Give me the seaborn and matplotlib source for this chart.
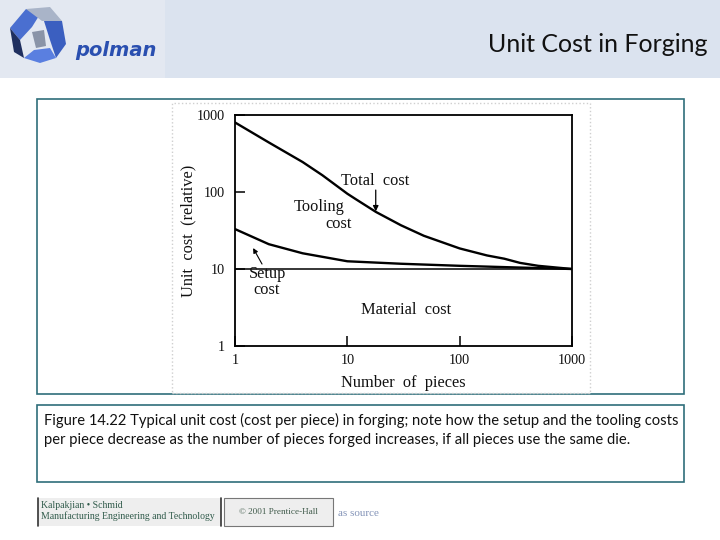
import numpy as np
import pandas as pd
import matplotlib
matplotlib.use("Agg")
import matplotlib.pyplot as plt
import seaborn as sns
from matplotlib.patches import Rectangle, Polygon

# ---- data ----
pieces_total = [1, 2, 4, 6, 10, 12, 18, 24, 30, 48, 100, 175, 250, 345, 500, 1000]
cost_total = [800, 440, 245, 165, 95, 80, 55, 44, 37, 27, 18.5, 15, 13.6, 12, 11, 10]
pieces_setup = [1, 2, 4, 10, 30, 100, 300, 1000]
cost_setup = [33, 21, 16, 12.6, 11.7, 11, 10.5, 10]
pieces_material = [1, 1000]
cost_material = [10, 10]
x_ticks = [1, 10, 100, 1000]
y_ticks = [1, 10, 100, 1000]

df_total = pd.DataFrame({"pieces": pieces_total, "cost": cost_total})
df_setup = pd.DataFrame({"pieces": pieces_setup, "cost": cost_setup})
df_mat = pd.DataFrame({"pieces": pieces_material, "cost": cost_material})

sns.set_theme(style="white")
plt.rcParams["font.family"] = ["Liberation Serif", "DejaVu Serif"]

W, H = 720, 540
fig = plt.figure(figsize=(7.2, 5.4), dpi=100)
fig.patch.set_facecolor("white")

def fx(px):
    return px / W

def fy(py):
    return 1 - py / H

def frect(x0, y0, x1, y1, **kw):
    r = Rectangle((fx(x0), fy(y1)), fx(x1) - fx(x0), fy(y0) - fy(y1),
                  transform=fig.transFigure, **kw)
    fig.add_artist(r)
    return r

# header band
frect(0, 0, 720, 78, facecolor="#dbe3ef", edgecolor="none", zorder=0)
frect(0, 0, 165, 78, facecolor="#e3e8f1", edgecolor="none", zorder=0)
fig.text(fx(708), fy(45), "Unit Cost in Forging", ha="right", va="center",
         fontsize=18, family=["Lato", "DejaVu Sans"], color="#111111")

# logo (approximation)
logo_polys = [
    ([(10, 28), (26, 9), (42, 11), (32, 27), (20, 40)], "#4a6fd0"),
    ([(26, 9), (50, 7), (62, 21), (42, 21)], "#a9b4c8"),
    ([(44, 21), (62, 21), (66, 44), (56, 58), (50, 40)], "#3b5fc0"),
    ([(10, 28), (20, 40), (24, 58), (14, 52)], "#1f2f5f"),
    ([(24, 58), (40, 63), (56, 58), (50, 48), (34, 50)], "#5a7fe0"),
    ([(32, 32), (44, 30), (46, 46), (36, 48)], "#8a94a8"),
]
for pts, col in logo_polys:
    fig.add_artist(Polygon([(fx(a), fy(b)) for a, b in pts], closed=True,
                           transform=fig.transFigure, facecolor=col,
                           edgecolor="none", zorder=1))
fig.text(fx(75), fy(50), "polman", ha="left", va="center", fontsize=14,
         fontweight="bold", style="italic", color="#2a4fb0",
         family=["DejaVu Sans"])

# chart frame
frect(37, 99, 684, 394, facecolor="white", edgecolor="#2f6e7a", linewidth=1.2, zorder=0)
frect(172, 103, 590, 393, facecolor="white", edgecolor="#cfcfcf", linewidth=1.0,
      linestyle=":", zorder=0)

# caption box
frect(37, 405, 684, 482, facecolor="white", edgecolor="#2f6e7a", linewidth=1.2, zorder=0)
cap_font = ["Lato", "DejaVu Sans"]
fig.text(fx(44), fy(420), "Figure 14.22 Typical unit cost (cost per piece) in forging; note how the setup and the tooling costs",
         ha="left", va="center", fontsize=10.6, family=cap_font, color="#111111")
fig.text(fx(44), fy(440), "per piece decrease as the number of pieces forged increases, if all pieces use the same die.",
         ha="left", va="center", fontsize=10.6, family=cap_font, color="#111111")

# footer
frect(38, 498, 221, 526, facecolor="#eeeeee", edgecolor="none", zorder=0)
fig.add_artist(plt.Line2D([fx(38), fx(38)], [fy(498), fy(526)], transform=fig.transFigure, color="#333333", lw=1.2))
fig.add_artist(plt.Line2D([fx(221), fx(221)], [fy(498), fy(526)], transform=fig.transFigure, color="#333333", lw=1.2))
fig.text(fx(41), fy(505), "Kalpakjian \u2022 Schmid", ha="left", va="center",
         fontsize=7.0, color="#2f5a4a")
fig.text(fx(41), fy(516), "Manufacturing Engineering and Technology", ha="left", va="center",
         fontsize=7.0, color="#2f5a4a")
frect(224, 498, 333, 526, facecolor="#eeeeee", edgecolor="#777777", linewidth=0.8, zorder=0)
fig.text(fx(278.5), fy(512), "\u00a9 2001 Prentice-Hall", ha="center", va="center",
         fontsize=6.6, color="#3f5a4a")
fig.text(fx(338), fy(513), "as source", ha="left", va="center",
         fontsize=8, color="#8494b8")

# ---- the chart ----
ax = fig.add_axes([fx(235), fy(346), fx(572) - fx(235), fy(115) - fy(346)])
ax.set_facecolor("white")
sns.lineplot(data=df_total, x="pieces", y="cost", color="black", linewidth=1.7,
             ax=ax, legend=False, sort=False)
sns.lineplot(data=df_setup, x="pieces", y="cost", color="black", linewidth=1.7,
             ax=ax, legend=False, sort=False)
sns.lineplot(data=df_mat, x="pieces", y="cost", color="black", linewidth=1.1,
             ax=ax, legend=False, sort=False)
ax.set_xscale("log")
ax.set_yscale("log")
ax.set_xlim(1, 1000)
ax.set_ylim(1, 1000)
ax.set_xticks(x_ticks)
ax.set_yticks(y_ticks)
ax.set_xticklabels([str(v) for v in x_ticks])
ax.set_yticklabels([str(v) for v in y_ticks])
ax.minorticks_off()
ax.tick_params(axis="x", which="major", bottom=True, direction="in", length=7,
               width=1.1, color="black", labelsize=10.2, pad=6, labelcolor="#111111")
ax.tick_params(axis="y", which="major", left=True, direction="in", length=7,
               width=1.1, color="black", labelsize=10.2, pad=7, labelcolor="#111111")
for s in ax.spines.values():
    s.set_color("black")
    s.set_linewidth(1.3)
    s.set_visible(True)
ax.set_xlabel("Number  of  pieces", fontsize=11.8, color="#111111")
ax.set_ylabel("Unit  cost  (relative)", fontsize=11.8, color="#111111")
ax.yaxis.set_label_coords(-0.116, 0.5)
ax.xaxis.set_label_coords(0.5, -0.125)

tk = dict(fontsize=11.8, color="#111111", ha="center", va="center")
ax.text(17.6, 139, "Total  cost", **tk)
ax.annotate("", xy=(17.9, 56), xytext=(17.9, 106),
            arrowprops=dict(arrowstyle="-|>", color="black", lw=0.9, mutation_scale=8,
                            shrinkA=0, shrinkB=0))
ax.text(5.6, 64, "Tooling", **tk)
ax.text(8.3, 38, "cost", **tk)
ax.text(1.93, 8.6, "Setup", **tk)
ax.text(1.93, 5.3, "cost", **tk)
ax.annotate("", xy=(1.45, 18.7), xytext=(1.74, 11.6),
            arrowprops=dict(arrowstyle="-|>", color="black", lw=0.8, mutation_scale=7,
                            shrinkA=0, shrinkB=0))
ax.text(33.3, 2.9, "Material  cost", **tk)

fig.savefig("out.png", dpi=100)
